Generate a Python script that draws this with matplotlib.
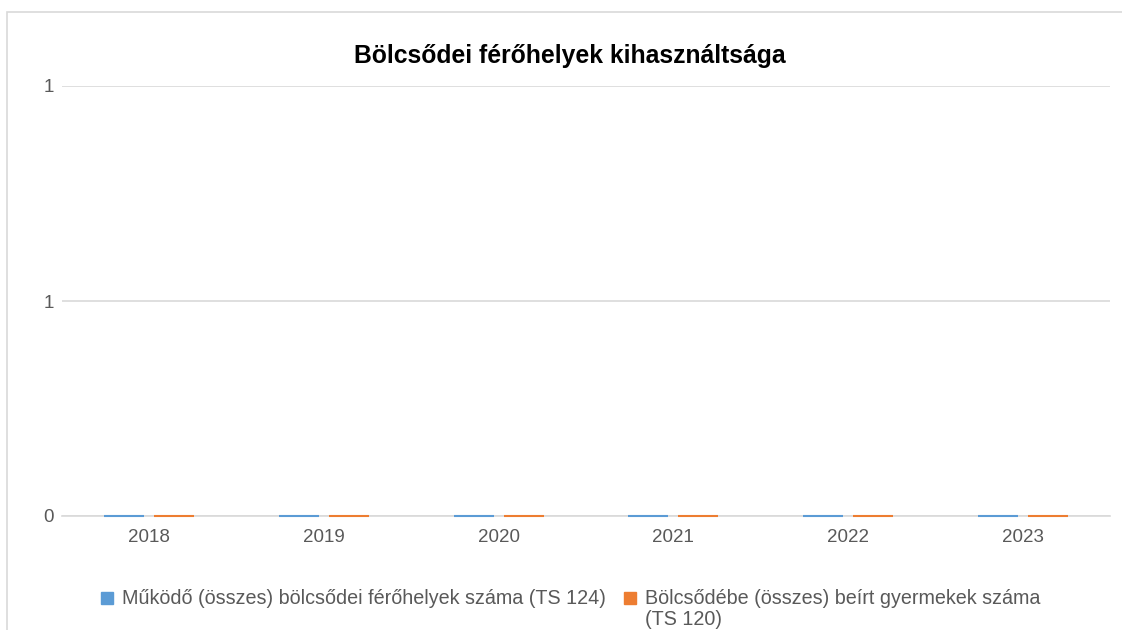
import math
import numpy as np
import matplotlib.pyplot as plt
from matplotlib.patches import Rectangle
from matplotlib.ticker import FuncFormatter

plt.rcParams['font.family'] = ['Liberation Sans', 'DejaVu Sans']

years = ["2018", "2019", "2020", "2021", "2022", "2023"]
ferohelyek = [0, 0, 0, 0, 0, 0]   # TS 124
beirt = [0, 0, 0, 0, 0, 0]        # TS 120
series_names = ["Működő (összes) bölcsődei férőhelyek száma (TS 124)",
                "Bölcsődébe (összes) beírt gyermekek száma\n(TS 120)"]
y_ticks = [0, 0.5, 1]

blue = "#5b9bd5"
orange = "#ed7d31"
grey_txt = "#595959"
grid_c = "#d9d9d9"

W, H = 1122, 630
fig = plt.figure(figsize=(W / 100, H / 100), dpi=100)
ax = fig.add_axes([62 / W, 114 / H, (1110 - 62) / W, (516 - 86) / H])

# chart area border
fig.patches.append(Rectangle((7 / W, -0.1), 1.2, (H - 12) / H + 0.1,
                             transform=fig.transFigure, fill=False,
                             edgecolor=grid_c, linewidth=1.2))

x = np.arange(len(years))
bw = 0.229
off = 0.143
for xs, vals, col in [(x - off, ferohelyek, blue), (x + off, beirt, orange)]:
    ax.bar(xs, vals, bw, color=col, linewidth=0, zorder=3)
    # zero-height bars show up as a thin line, like in Excel
    ax.hlines(vals, xs - bw / 2, xs + bw / 2, colors=col, linewidth=1.5,
              zorder=4, clip_on=False)

ax.set_xlim(-0.5, len(years) - 0.5)
ax.set_ylim(0, 1)
ax.set_xticks(x)
ax.set_xticklabels(years)
ax.set_yticks(y_ticks)
ax.yaxis.set_major_formatter(FuncFormatter(lambda v, p: str(math.floor(v + 0.5))))
ax.tick_params(axis='both', length=0, labelsize=13.5, labelcolor=grey_txt)
ax.tick_params(axis='x', pad=9)
ax.tick_params(axis='y', pad=6)
ax.grid(axis='y', color=grid_c, linewidth=1.2, zorder=0)
ax.set_axisbelow(True)
for s in ['top', 'right', 'left']:
    ax.spines[s].set_visible(False)
ax.spines['bottom'].set_color(grid_c)
ax.spines['bottom'].set_linewidth(1.2)
ax.spines['bottom'].set_zorder(1)

fig.text(570 / W, 1 - 56 / H, "Bölcsődei férőhelyek kihasználtsága",
         ha='center', va='center', fontsize=17.8, fontweight='bold', color='black')

# legend
for (px, tx), name, col in zip([(101, 122), (624, 645)], series_names, [blue, orange]):
    fig.patches.append(Rectangle((px / W, 1 - 604 / H), 12 / W, 12 / H,
                                 transform=fig.transFigure, color=col))
    fig.text(tx / W, 1 - 589 / H, name, ha='left', va='top',
             fontsize=14.2, color=grey_txt, linespacing=1.15)

fig.savefig("out.png", dpi=100)
